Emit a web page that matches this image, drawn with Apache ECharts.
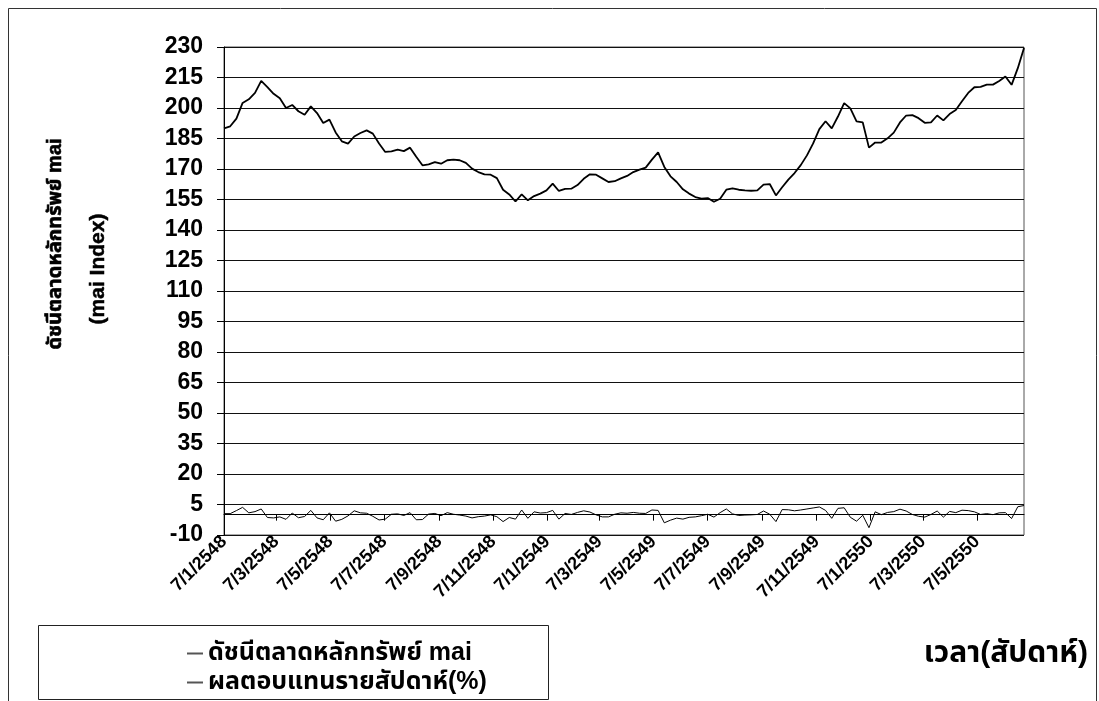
<!DOCTYPE html>
<html>
<head>
<meta charset="utf-8">
<script src="https://cdn.jsdelivr.net/npm/echarts@6/dist/echarts.min.js"></script>
<style>
  html, body { margin: 0; padding: 0; background: #fff; }
  #chart { width: 1099px; height: 701px; }
</style>
</head>
<body>
<div id="chart"></div>
<script>
// Weekly mai index closes, one per Friday starting 7 Jan 2005 (7/1/2548)
const firstWeek = '7/1/2548';
const maiIndex = [
  190.0, 191.0, 194.8, 202.5, 204.3, 207.4, 213.3, 210.3, 207.0, 204.8,
  200.0, 201.5, 198.4, 196.7, 200.8, 197.5, 192.6, 194.3, 188.0, 183.6,
  182.5, 186.0, 187.7, 189.0, 187.4, 182.5, 178.4, 178.7, 179.5, 178.8,
  180.5, 176.0, 171.8, 172.3, 173.4, 172.6, 174.3, 174.6, 174.3, 173.0,
  170.2, 168.5, 167.4, 167.2, 165.5, 159.8, 157.5, 154.0, 157.5, 154.6,
  156.7, 157.9, 159.5, 162.8, 159.2, 160.2, 160.3, 162.1, 165.2, 167.4,
  167.2, 165.4, 163.6, 164.0, 165.4, 166.6, 168.5, 169.7, 170.7, 174.6,
  178.2, 171.0, 166.4, 163.6, 160.0, 157.9, 156.2, 155.4, 155.7, 153.9,
  155.4, 159.8, 160.5, 159.8, 159.5, 159.3, 159.5, 162.3, 162.6, 157.0,
  161.0, 164.8, 168.0, 171.9, 176.7, 182.6, 189.6, 193.5, 190.0, 195.8,
  202.4, 199.8, 193.4, 192.9, 180.5, 183.0, 183.0, 185.1, 187.9, 192.9,
  196.3, 196.5, 195.0, 192.7, 192.9, 196.3, 193.9, 197.0, 199.0, 203.3,
  207.4, 210.2, 210.4, 211.5, 211.5, 213.3, 215.5, 211.4, 219.6, 229.5
];

// Weekly return of the index, in percent
const weeklyReturn = [
   0.5,  0.5,  2.0,  3.6,  0.9,  1.5,  2.8, -1.4, -1.6, -1.1,
  -2.3,  0.8, -1.5, -0.9,  2.1, -1.6, -2.5,  0.9, -3.2, -2.3,
  -0.6,  1.9,  0.9,  0.7, -0.8, -2.6, -2.2,  0.2,  0.4, -0.4,
   1.0, -2.5, -2.4,  0.3,  0.6, -0.5,  1.0,  0.2, -0.2, -0.7,
  -1.6, -1.0, -0.7, -0.1, -1.0, -3.4, -1.4, -2.2,  2.3, -1.8,
   1.4,  0.8,  1.0,  2.1, -2.2,  0.6,  0.1,  1.1,  1.9,  1.3,
  -0.1, -1.1, -1.1,  0.2,  0.9,  0.7,  1.1,  0.7,  0.6,  2.3,
   2.1, -4.0, -2.7, -1.7, -2.2, -1.3, -1.1, -0.5,  0.2, -1.2,
   1.0,  2.8,  0.4, -0.4, -0.2, -0.1,  0.1,  1.8,  0.2, -3.4,
   2.5,  2.4,  1.9,  2.3,  2.8,  3.3,  3.8,  2.1, -1.8,  3.1,
   3.4, -1.3, -3.2, -0.3, -6.4,  1.4,  0.0,  1.1,  1.5,  2.7,
   1.8,  0.1, -0.8, -1.2,  0.1,  1.8, -1.2,  1.6,  1.0,  2.2,
   2.0,  1.4,  0.1,  0.5,  0.0,  0.9,  1.0, -1.9,  3.9,  4.5
];

// Date ticks on the time axis (day/month/Buddhist-era year)
const dateTicks = [
  '7/1/2548', '7/3/2548', '7/5/2548', '7/7/2548', '7/9/2548', '7/11/2548',
  '7/1/2549', '7/3/2549', '7/5/2549', '7/7/2549', '7/9/2549', '7/11/2549',
  '7/1/2550', '7/3/2550', '7/5/2550'
];

const yTicks = { min: -10, max: 230, step: 15 };

const seriesNames = ['ดัชนีตลาดหลักทรัพย์ mai', 'ผลตอบแทนรายสัปดาห์(%)'];
const yTitleLines = ['ดัชนีตลาดหลักทรัพย์ mai', '(mai Index)'];
const xTitle = 'เวลา(สัปดาห์)';

// Thai date string d/m/yyyy(BE) -> UTC timestamp
function parseThaiDate(s) {
  const [d, m, y] = s.split('/').map(Number);
  return Date.UTC(y - 543, m - 1, d);
}
function formatThaiDate(t) {
  const dt = new Date(t);
  return dt.getUTCDate() + '/' + (dt.getUTCMonth() + 1) + '/' + (dt.getUTCFullYear() + 543);
}

const WEEK_MS = 7 * 24 * 3600 * 1000;
const t0 = parseThaiDate(firstWeek);
const weekTimes = maiIndex.map((_, i) => t0 + i * WEEK_MS);
const tickTimes = dateTicks.map(parseThaiDate);
const xMin = weekTimes[0];
const xMax = weekTimes[weekTimes.length - 1];

const FONT = '"Liberation Sans", Arial, "DejaVu Sans", sans-serif';
const THAI_FONT = '"Liberation Sans", Arial, "Noto Sans Thai", "Noto Sans", "DejaVu Sans", sans-serif';

const chart = echarts.init(document.getElementById('chart'), null, { renderer: 'canvas' });

chart.setOption({
  animation: false,
  backgroundColor: '#fff',
  grid: {
    left: 224, right: 75, top: 47, bottom: 166,
    show: true, borderColor: '#555', borderWidth: 1, backgroundColor: 'transparent'
  },
  xAxis: [
    {
      // axis line crossing at zero, with tick marks
      type: 'value', min: xMin, max: xMax, position: 'bottom',
      axisLine: { show: true, onZero: true, lineStyle: { color: '#000', width: 1 } },
      axisTick: { show: true, inside: false, length: 6, customValues: tickTimes, lineStyle: { color: '#000' } },
      axisLabel: { show: false },
      splitLine: { show: false }
    },
    {
      // date labels along the bottom of the plot
      type: 'value', min: xMin, max: xMax, position: 'bottom',
      axisLine: { show: false, onZero: false },
      axisTick: { show: false },
      splitLine: { show: false },
      axisLabel: {
        show: true, customValues: tickTimes, rotate: 45, margin: 4,
        formatter: v => formatThaiDate(v),
        fontFamily: FONT, fontWeight: 'bold', fontSize: 18, color: '#000'
      }
    }
  ],
  yAxis: {
    type: 'value', min: yTicks.min, max: yTicks.max, interval: yTicks.step,
    axisLine: { show: true, onZero: false, lineStyle: { color: '#000', width: 1 } },
    axisTick: { show: true, inside: false, length: 7, lineStyle: { color: '#000' } },
    axisLabel: { fontFamily: FONT, fontWeight: 'bold', fontSize: 23, color: '#000', margin: 21 },
    splitLine: { show: true, lineStyle: { color: '#111', width: 1 } }
  },
  legend: {
    orient: 'vertical', left: 182, top: 636, itemGap: 4,
    icon: 'rect', itemWidth: 16, itemHeight: 2,
    itemStyle: { color: '#555' },
    data: seriesNames,
    textStyle: { fontFamily: THAI_FONT, fontWeight: 'bold', fontSize: 25, color: '#000' }
  },
  graphic: [
    { type: 'rect', shape: { x: 8.5, y: 8.5, width: 1088, height: 720 }, style: { fill: null, stroke: '#333', lineWidth: 1 }, silent: true, z: -1 },
    { type: 'rect', shape: { x: 38.5, y: 625.5, width: 510, height: 74 }, style: { fill: null, stroke: '#222', lineWidth: 1 }, silent: true },
    {
      type: 'text', x: 55, y: 244, rotation: Math.PI / 2,
      style: {
        text: yTitleLines[0], font: 'bold 20px ' + THAI_FONT,
        fill: '#000', stroke: '#000', lineWidth: 0.6, align: 'center', verticalAlign: 'middle'
      }
    },
    {
      type: 'text', x: 98, y: 269, rotation: Math.PI / 2,
      style: {
        text: yTitleLines[1], font: 'bold 21px ' + THAI_FONT,
        fill: '#000', stroke: '#000', lineWidth: 0.5, align: 'center', verticalAlign: 'middle'
      }
    },
    {
      type: 'text', x: 1088, y: 654,
      style: {
        text: xTitle, font: 'bold 30px ' + THAI_FONT,
        fill: '#000', align: 'right', verticalAlign: 'middle'
      }
    }
  ],
  series: [
    {
      name: seriesNames[0], type: 'line', xAxisIndex: 0, yAxisIndex: 0,
      data: weekTimes.map((t, i) => [t, maiIndex[i]]),
      symbol: 'none', lineStyle: { color: '#000', width: 1.8 }, itemStyle: { color: '#000' }
    },
    {
      name: seriesNames[1], type: 'line', xAxisIndex: 0, yAxisIndex: 0,
      data: weekTimes.map((t, i) => [t, weeklyReturn[i]]),
      symbol: 'none', lineStyle: { color: '#000', width: 1 }, itemStyle: { color: '#000' }
    }
  ]
});
</script>
</body>
</html>
